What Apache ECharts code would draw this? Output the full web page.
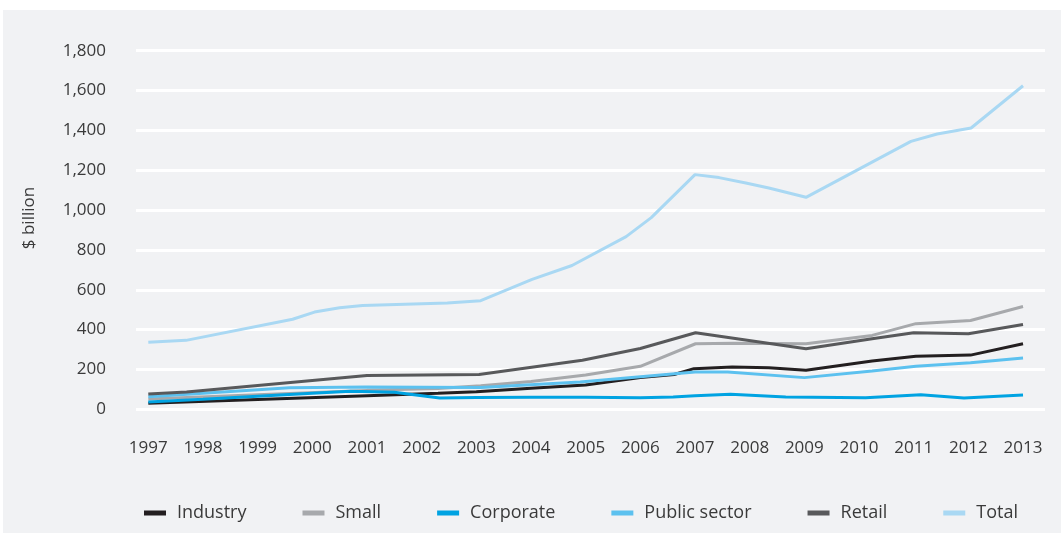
<!DOCTYPE html>
<html>
<head>
<meta charset="utf-8">
<script src="https://cdn.jsdelivr.net/npm/echarts@6/dist/echarts.min.js"></script>
<style>
  html, body { margin: 0; padding: 0; background: #ffffff; }
  #chart { width: 1061px; height: 535px; }
</style>
</head>
<body>
<div id="chart"></div>
<script>
// Tick labels
const yearLabels = [1997, 1998, 1999, 2000, 2001, 2002, 2003, 2004, 2005, 2006, 2007, 2008, 2009, 2010, 2011, 2012, 2013];
const seriesNames = ['Industry', 'Small', 'Corporate', 'Public sector', 'Retail', 'Total'];

// Series values: [year, $ billion]
const industry = [[1997, 30], [2001, 68], [2002.3, 80], [2003, 88], [2004, 106], [2005, 122], [2006, 159], [2006.62, 175], [2006.98, 204], [2007.68, 212], [2008.35, 209], [2009.03, 196], [2010.24, 242], [2011.04, 266], [2012.04, 272], [2013, 329]];
const small = [[1997, 52], [2001, 95], [2002.3, 105], [2003.08, 118], [2004, 140], [2005, 172], [2006, 216], [2007.01, 329], [2007.7, 332], [2009.03, 329], [2010.24, 371], [2011.04, 430], [2012.04, 446], [2013, 516]];
const corporate = [[1997, 37], [1998, 50], [2000, 80], [2000.7, 90], [2001.5, 86], [2002.33, 57], [2003, 59], [2004, 61], [2005, 60], [2006, 58], [2006.6, 62], [2007, 68], [2007.65, 75], [2008.66, 62], [2010.12, 58], [2011.13, 73], [2011.92, 57], [2013, 72]];
const publicSector = [[1997, 63], [1999.58, 108], [2000.98, 112], [2003.08, 109], [2004.9, 137], [2007, 187], [2007.6, 187], [2009, 159], [2010.24, 192], [2011.04, 216], [2012.04, 234], [2013, 257]];
const retail = [[1997, 77], [1997.7, 87], [2001, 170], [2003.05, 175], [2004.94, 246], [2006, 305], [2007.01, 384], [2009.03, 304], [2010.24, 354], [2011, 384], [2012, 379], [2013, 426]];
const total = [[1997, 336], [1997.69, 346], [1999.64, 452], [2000.04, 488], [2000.5, 510], [2000.92, 521], [2002.47, 533], [2003.08, 545], [2004.02, 652], [2004.75, 722], [2005.74, 867], [2006.2, 962], [2007, 1178], [2007.44, 1163], [2007.93, 1136], [2008.35, 1111], [2009.03, 1064], [2010.95, 1345], [2011.43, 1382], [2012.05, 1412], [2013, 1624]];

const seriesData = [industry, small, corporate, publicSector, retail, total];
const colors = ['#231f20', '#a7a9ac', '#00a3e2', '#5cc1ef', '#58595b', '#a9d8f3'];

const FONT = '"Open Sans", "Noto Sans", sans-serif';
const TEXT = '#3a3a3a';

const chart = echarts.init(document.getElementById('chart'), null, { renderer: 'canvas' });
chart.setOption({
  animation: false,
  backgroundColor: '#ffffff',
  color: colors,
  graphic: [
    { type: 'rect', z: -10, silent: true, shape: { x: 3, y: 10, width: 1058, height: 523 }, style: { fill: '#f1f2f4' } },
    { type: 'text', x: 29, y: 218, rotation: Math.PI / 2,
      style: { text: '$ billion', fill: TEXT, font: '17px ' + FONT, align: 'center', verticalAlign: 'middle' } }
  ],
  grid: { left: 136, right: 16, top: 50.7, bottom: 125.7 },
  legend: {
    left: 139, top: 499, itemGap: 56, icon: 'rect', itemWidth: 22, itemHeight: 5,
    textStyle: { fontFamily: FONT, fontSize: 18, color: TEXT, padding: [0, 0, 0, 6] },
    data: seriesNames
  },
  xAxis: {
    type: 'value', min: 1996.775, max: 2013.402,
    axisLine: { show: false }, axisTick: { show: false }, splitLine: { show: false },
    axisLabel: {
      customValues: yearLabels, margin: 30,
      fontFamily: FONT, fontSize: 17, color: TEXT,
      formatter: v => String(Math.round(v))
    }
  },
  yAxis: {
    type: 'value', min: 0, max: 1800, interval: 200,
    axisLine: { show: false }, axisTick: { show: false },
    splitLine: { show: true, lineStyle: { color: '#ffffff', width: 3 } },
    axisLabel: {
      margin: 30, fontFamily: FONT, fontSize: 17, color: TEXT,
      formatter: v => v.toLocaleString('en-US')
    }
  },
  series: seriesNames.map((name, i) => ({
    name: name, type: 'line', data: seriesData[i], symbol: 'none', smooth: false,
    lineStyle: { width: 3, color: colors[i] }, itemStyle: { color: colors[i] }
  }))
});
</script>
</body>
</html>
